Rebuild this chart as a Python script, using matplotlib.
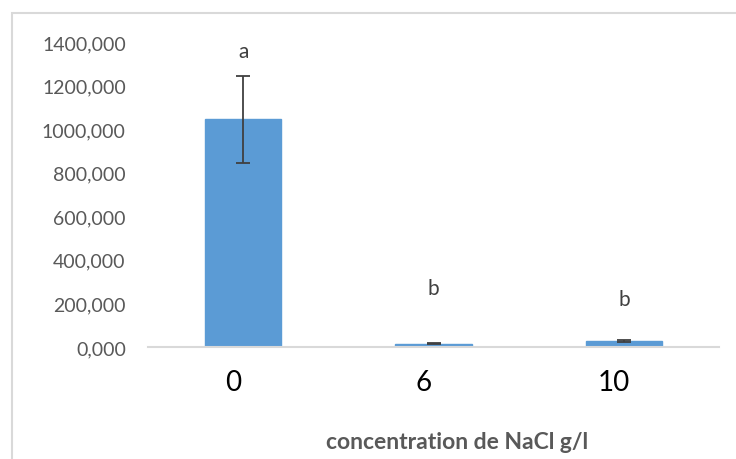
import matplotlib.pyplot as plt
import matplotlib.transforms as mtransforms
from matplotlib.patches import Rectangle
from matplotlib.ticker import FuncFormatter

concentrations = ['0', '6', '10']
means = [1045, 16, 27]
errors = [200, 3, 6]
letters = ['a', 'b', 'b']
letter_y = [1358, 271, 220]
yticks = [0, 200, 400, 600, 800, 1000, 1200, 1400]

plt.rcParams['font.family'] = ['Lato', 'DejaVu Sans']

fig = plt.figure(figsize=(7.36, 4.6), dpi=100, facecolor='white')
# outer chart border (cropped on the right and bottom)
fig.patches.append(Rectangle((12/736, -0.1), 1.0, 1 - 14/460 + 0.1, transform=fig.transFigure,
                             fill=False, edgecolor='#D9D9D9', lw=1.5))
ax = fig.add_axes([148/736, 1 - 348/460, 571/736, 305/460])

x = range(len(concentrations))
ax.bar(x, means, width=0.4, color='#5B9BD5', edgecolor='#5B9BD5', zorder=2)
ax.errorbar(x, means, yerr=errors, fmt='none', ecolor='#404040', elinewidth=1.3,
            capsize=5, capthick=1.3, zorder=3)
for i, (l, ly) in enumerate(zip(letters, letter_y)):
    ax.text(i, ly, l, ha='center', va='center', fontsize=15, color='#404040')

ax.set_xlim(-0.5, 2.5)
ax.set_ylim(0, 1400)
ax.set_yticks(yticks)
ax.yaxis.set_major_formatter(FuncFormatter(lambda v, p: '%d,000' % v))
ax.set_xticks(list(x))
ax.set_xticklabels(concentrations)
for s in ['top', 'right', 'left']:
    ax.spines[s].set_visible(False)
ax.spines['bottom'].set_color('#D9D9D9')
ax.spines['bottom'].set_linewidth(1.5)
ax.tick_params(axis='y', length=0, pad=16, labelsize=14, labelcolor='#595959')
ax.tick_params(axis='x', length=0, pad=16, labelsize=20, labelcolor='#000000')
shift = mtransforms.ScaledTranslation(-10/100, 0, fig.dpi_scale_trans)
for lab in ax.get_xticklabels():
    lab.set_transform(lab.get_transform() + shift)

fig.text(457/736, 1 - 443/460, 'concentration de NaCl g/l', ha='center', va='center',
         fontsize=16.5, fontweight='bold', color='#595959')

fig.savefig('out.png', dpi=100, facecolor='white')
